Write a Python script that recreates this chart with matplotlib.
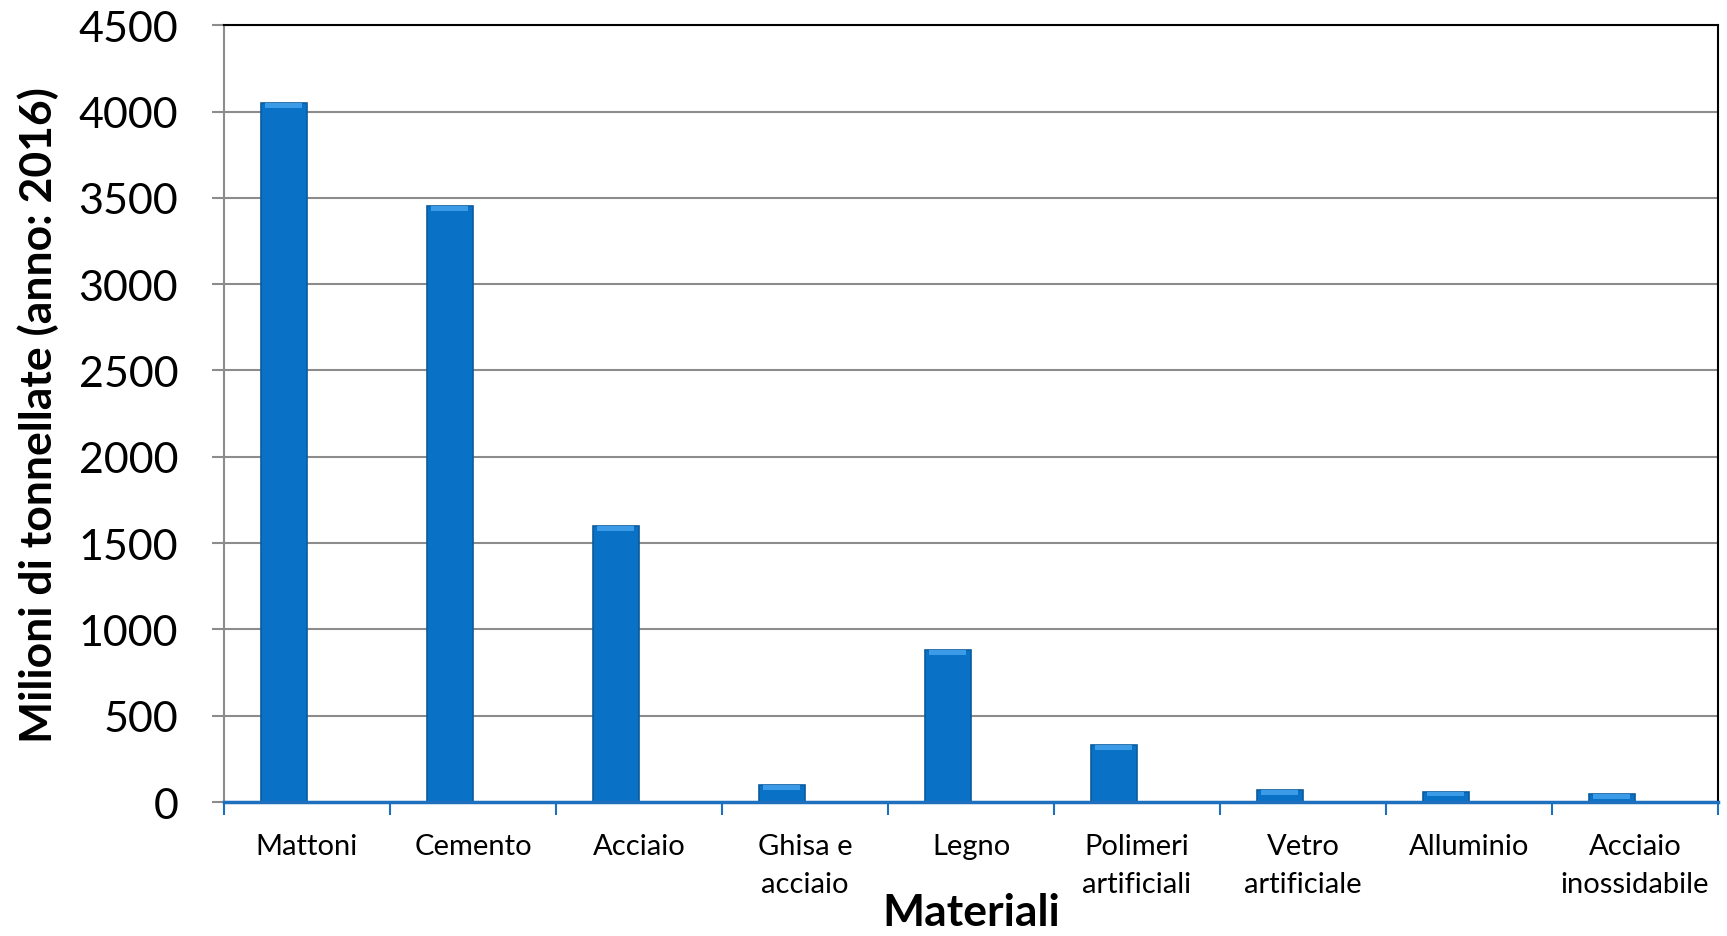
import matplotlib
matplotlib.use("Agg")
import matplotlib.pyplot as plt
import numpy as np

categories = ["Mattoni", "Cemento", "Acciaio", "Ghisa e\nacciaio", "Legno",
              "Polimeri\nartificiali", "Vetro\nartificiale", "Alluminio",
              "Acciaio\ninossidabile"]
values = [4050, 3450, 1600, 100, 880, 330, 70, 60, 45]
yticks = [0, 500, 1000, 1500, 2000, 2500, 3000, 3500, 4000, 4500]

plt.rcParams['font.family'] = ['Lato', 'DejaVu Sans']

fig = plt.figure(figsize=(17.27, 9.37), dpi=100)
ax = fig.add_axes([0.1297, 0.143, 0.8651, 0.829])

x = np.arange(len(categories))
offset = -0.14
width = 0.28
bar_color = "#0A72C6"
ax.bar(x + offset, values, width=width, color=bar_color, edgecolor="#0B5C9E",
       linewidth=1.2, zorder=3)
# bevel highlight on top of each bar
bevel = np.minimum(np.array(values) * 0.6, 28)
ax.bar(x + offset, bevel, bottom=np.array(values) - bevel, width=width * 0.8,
       color="#3B9BE6", linewidth=0, zorder=4)

ax.set_xlim(-0.5, len(categories) - 0.5)
ax.set_ylim(0, 4500)
ax.set_yticks(yticks)
ax.set_yticklabels([str(t) for t in yticks], fontsize=31)
ax.yaxis.grid(True, color="#8C8C8C", linewidth=1.5, zorder=0)
ax.set_axisbelow(True)

ax.set_xticks(x)
ax.set_xticklabels(categories, fontsize=21, linespacing=1.6, va="top",
                   multialignment="center")
ax.set_xticks(np.arange(-0.5, len(categories), 1.0), minor=True)
ax.tick_params(axis="x", which="major", length=0, pad=22)
ax.tick_params(axis="x", which="minor", length=9, width=1.5, color="#1F6FBF",
               direction="out")
ax.tick_params(axis="y", which="major", length=9, width=1.5, color="#8C8C8C",
               direction="out", pad=24)

for s in ["top", "right"]:
    ax.spines[s].set_color("black")
    ax.spines[s].set_linewidth(1.5)
ax.spines["left"].set_color("#8C8C8C")
ax.spines["left"].set_linewidth(1.5)
ax.spines["bottom"].set_color("#1F6FBF")
ax.spines["bottom"].set_linewidth(2.5)
ax.spines["bottom"].set_zorder(5)

ax.set_ylabel("Milioni di tonnellate (anno: 2016)", fontsize=32,
              fontweight="bold", labelpad=14)
ax.set_xlabel("Materiali", fontsize=32, fontweight="bold", labelpad=-4)

fig.savefig("out.png", dpi=100, facecolor="white")
